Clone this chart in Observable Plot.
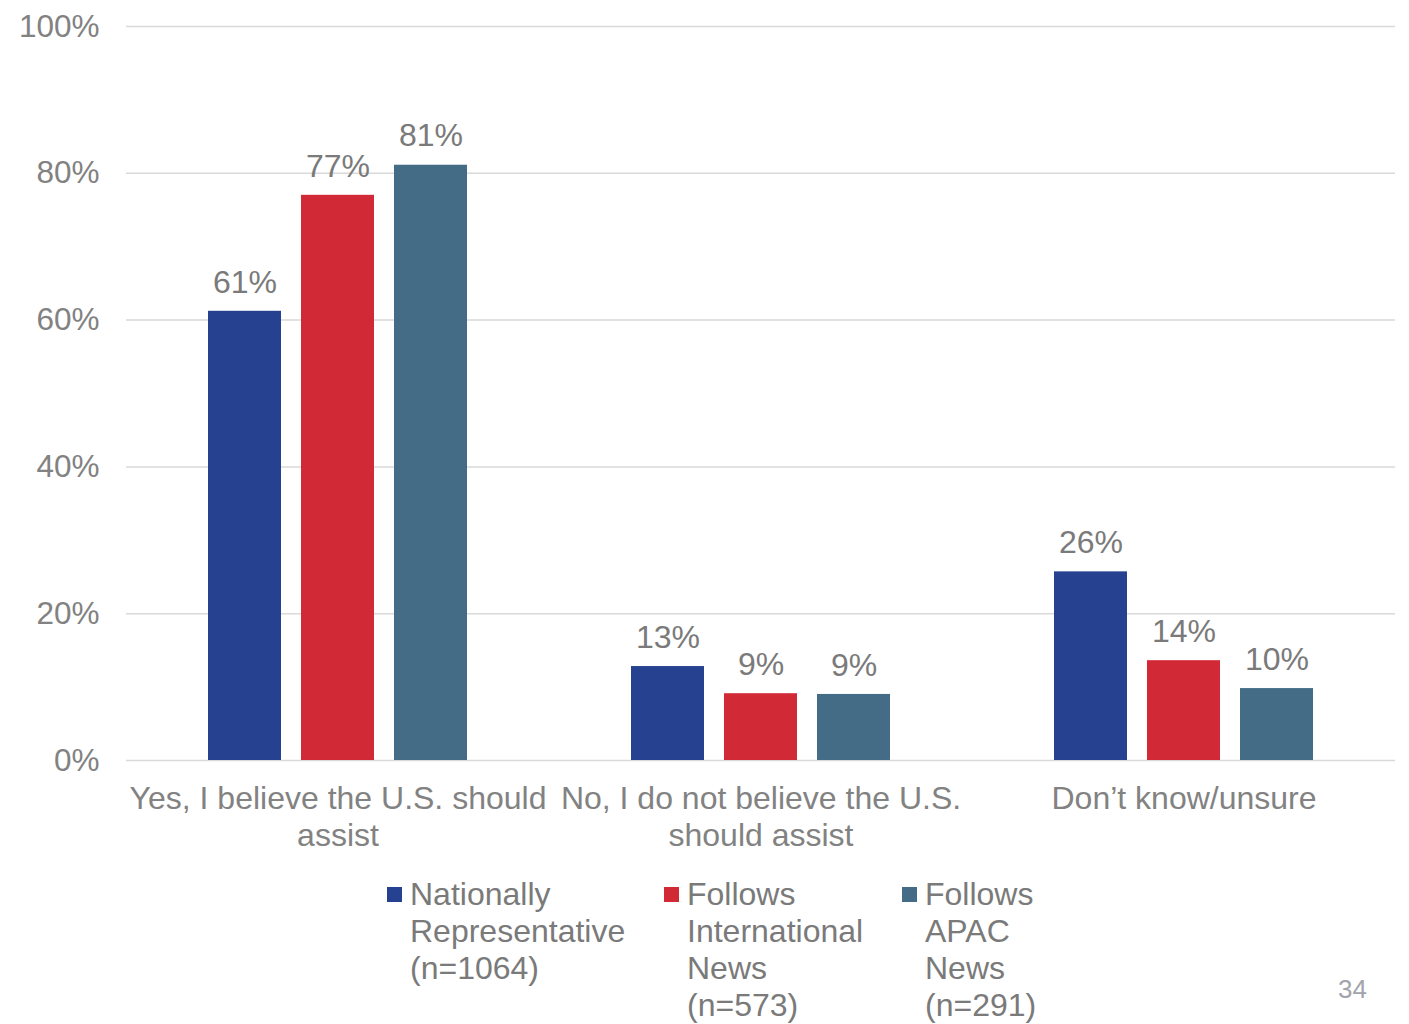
<!DOCTYPE html>
<html>
<head>
<meta charset="utf-8">
<script src="https://cdn.jsdelivr.net/npm/d3@7"></script>
<script src="https://cdn.jsdelivr.net/npm/@observablehq/plot@0.6"></script>
<style>
  html, body { margin: 0; padding: 0; background: #fff; }
  #wrap { position: relative; width: 1409px; height: 1024px; font-family: "Liberation Sans", Arial, sans-serif; color: #7a7a7a; }
  .leg { position: absolute; top: 876px; font-size: 32px; line-height: 37px; }
  .sw { position: absolute; top: 887px; width: 15px; height: 15px; }
  #page { position: absolute; left: 1338px; top: 974px; font-size: 26px; color: #a3a3ad; }
</style>
</head>
<body>
<div id="wrap">
  <div id="chart"></div>
  <div id="legend"></div>
  <div id="page">34</div>
</div>
<script>
const categories = ["Yes, I believe the U.S. should assist", "No, I do not believe the U.S. should assist", "Don’t know/unsure"];
const categoryLabels = ["Yes, I believe the U.S. should\nassist", "No, I do not believe the U.S.\nshould assist", "Don’t know/unsure"];
const series = ["Nationally Representative (n=1064)", "Follows International News (n=573)", "Follows APAC News (n=291)"];
const legendLines = [["Nationally", "Representative", "(n=1064)"], ["Follows", "International", "News", "(n=573)"], ["Follows", "APAC", "News", "(n=291)"]];
const colors = ["#26418f", "#d12a36", "#456c87"];
const nationalValues = [61.2, 12.8, 25.7];
const internationalValues = [77.0, 9.1, 13.6];
const apacValues = [81.1, 9.0, 9.8];
const yTicks = [0, 20, 40, 60, 80, 100];

const seriesValues = [nationalValues, internationalValues, apacValues];
const data = [];
categories.forEach((c, ci) => series.forEach((s, si) => data.push({cat: c, series: s, value: seriesValues[si][ci]})));
const labelMap = Object.fromEntries(categories.map((c, i) => [c, categoryLabels[i]]));

const chart = Plot.plot({
  width: 1409, height: 860,
  marginLeft: 125, marginRight: 14, marginTop: 26, marginBottom: 100,
  style: {fontFamily: "'Liberation Sans', Arial, sans-serif", fontSize: "32px", color: "#7a7a7a", background: "#fff"},
  fx: {domain: categories, padding: 0, label: null},
  x: {domain: series, paddingInner: 0.213, paddingOuter: 0.858, axis: null},
  y: {domain: [0, 100], label: null},
  color: {domain: series, range: colors},
  marks: [
    Plot.gridY(yTicks, {stroke: "#d9d9d9", strokeOpacity: 1, strokeWidth: 1.5}),
    Plot.axisY(yTicks, {tickSize: 0, tickPadding: 27, tickFormat: d => d + "%", label: null, fontSize: 31.5, fill: "#828282"}),
    Plot.axisFx({anchor: "bottom", tickSize: 0, tickPadding: 22, label: null, tickFormat: d => labelMap[d], lineHeight: 1.156, fontSize: 32, fill: "#828282"}),
    Plot.barY(data, {fx: "cat", x: "series", y: "value", fill: "series"}),
    Plot.text(data, {fx: "cat", x: "series", y: "value", text: d => Math.round(d.value) + "%", dy: -29, lineAnchor: "middle", fontSize: 32, fill: "#7a7a7a"})
  ]
});
document.getElementById("chart").appendChild(chart);

const legend = document.getElementById("legend");
const swX = [387, 664, 902];
series.forEach((s, i) => {
  const sw = document.createElement("div");
  sw.className = "sw";
  sw.style.left = swX[i] + "px";
  sw.style.background = colors[i];
  legend.appendChild(sw);
  const t = document.createElement("div");
  t.className = "leg";
  t.style.left = (swX[i] + 23) + "px";
  t.innerHTML = legendLines[i].join("<br>");
  legend.appendChild(t);
});
</script>
</body>
</html>
